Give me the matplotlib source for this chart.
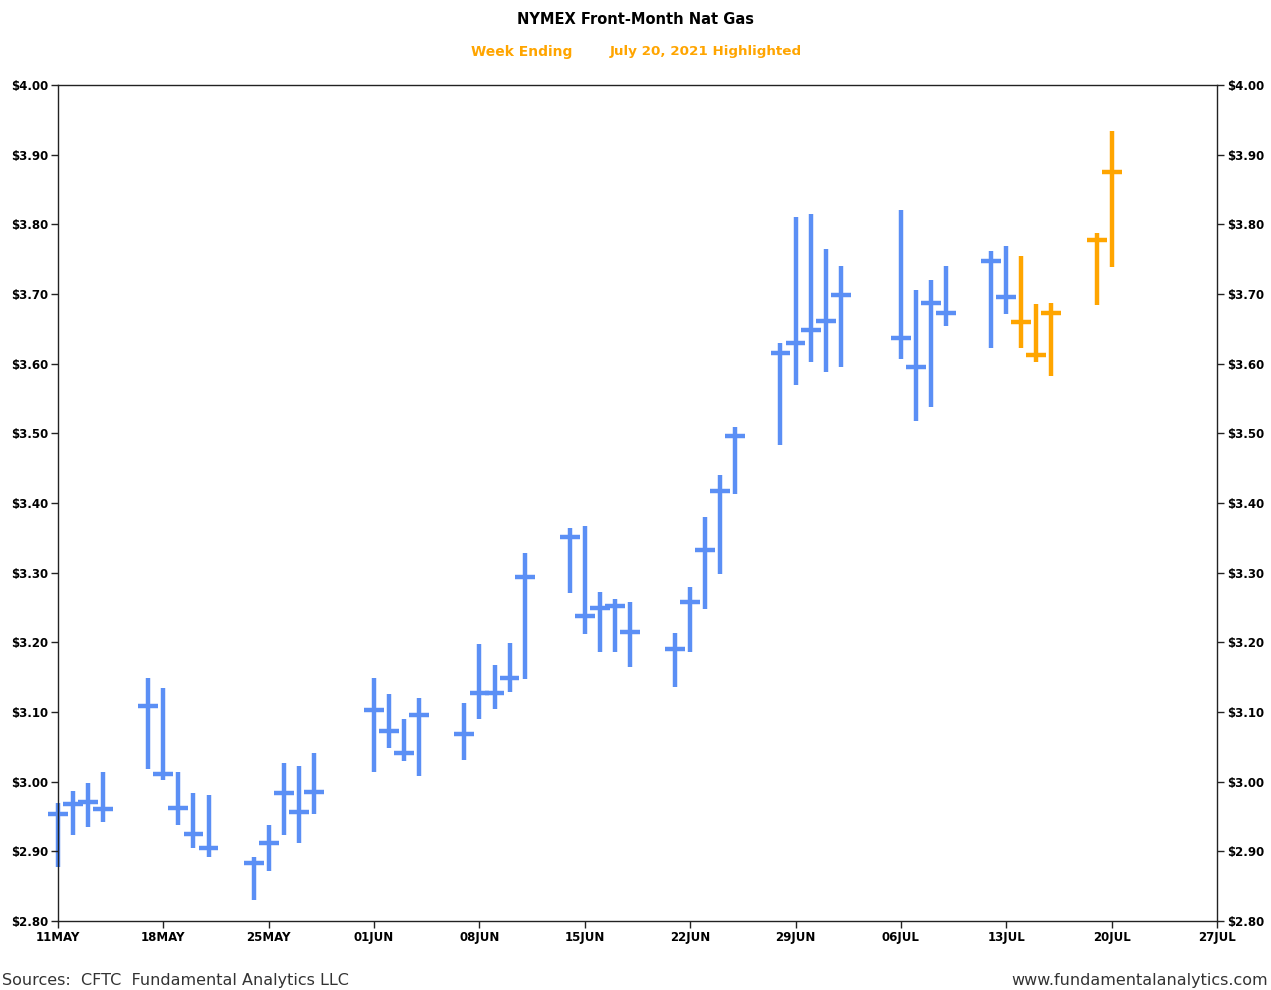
import numpy as np
import matplotlib
matplotlib.use("Agg")
import matplotlib.pyplot as plt
import matplotlib.dates as mdates
from matplotlib.ticker import FuncFormatter

# trading days with high / low / close
dates = ["2021-05-11", "2021-05-12", "2021-05-13", "2021-05-14",
         "2021-05-17", "2021-05-18", "2021-05-19", "2021-05-20", "2021-05-21",
         "2021-05-24", "2021-05-25", "2021-05-26", "2021-05-27", "2021-05-28",
         "2021-06-01", "2021-06-02", "2021-06-03", "2021-06-04",
         "2021-06-07", "2021-06-08", "2021-06-09", "2021-06-10", "2021-06-11",
         "2021-06-14", "2021-06-15", "2021-06-16", "2021-06-17", "2021-06-18",
         "2021-06-21", "2021-06-22", "2021-06-23", "2021-06-24", "2021-06-25",
         "2021-06-28", "2021-06-29", "2021-06-30", "2021-07-01", "2021-07-02",
         "2021-07-06", "2021-07-07", "2021-07-08", "2021-07-09",
         "2021-07-12", "2021-07-13", "2021-07-14", "2021-07-15", "2021-07-16",
         "2021-07-19", "2021-07-20"]

high = [2.970, 2.987, 2.998, 3.014,
        3.149, 3.134, 3.014, 2.984, 2.981,
        2.892, 2.938, 3.027, 3.023, 3.041,
        3.149, 3.126, 3.090, 3.120,
        3.113, 3.198, 3.168, 3.199, 3.328,
        3.364, 3.367, 3.272, 3.262, 3.258,
        3.213, 3.280, 3.380, 3.440, 3.509,
        3.630, 3.811, 3.815, 3.765, 3.740,
        3.821, 3.706, 3.720, 3.740,
        3.762, 3.769, 3.755, 3.686, 3.687,
        3.788, 3.934]

low = [2.878, 2.924, 2.935, 2.942,
       3.018, 3.002, 2.938, 2.905, 2.892,
       2.830, 2.872, 2.924, 2.912, 2.954,
       3.014, 3.048, 3.030, 3.008,
       3.031, 3.090, 3.104, 3.129, 3.147,
       3.271, 3.212, 3.186, 3.186, 3.165,
       3.136, 3.186, 3.248, 3.298, 3.413,
       3.483, 3.569, 3.602, 3.588, 3.595,
       3.607, 3.518, 3.538, 3.654,
       3.622, 3.671, 3.622, 3.602, 3.582,
       3.684, 3.739]

close = [2.954, 2.968, 2.971, 2.961,
         3.109, 3.011, 2.962, 2.925, 2.905,
         2.883, 2.912, 2.984, 2.957, 2.985,
         3.103, 3.073, 3.041, 3.096,
         3.068, 3.127, 3.127, 3.149, 3.294,
         3.351, 3.238, 3.249, 3.252, 3.215,
         3.190, 3.258, 3.333, 3.417, 3.496,
         3.615, 3.630, 3.648, 3.661, 3.699,
         3.637, 3.595, 3.687, 3.673,
         3.747, 3.696, 3.660, 3.612, 3.673,
         3.778, 3.875]

hl_start = "2021-07-14"   # week ending July 20 highlighted

week_ticks = ["2021-05-11", "2021-05-18", "2021-05-25", "2021-06-01",
              "2021-06-08", "2021-06-15", "2021-06-22", "2021-06-29",
              "2021-07-06", "2021-07-13", "2021-07-20", "2021-07-27"]

blue = "#5b8ff5"
orange = "#ffa500"

x = mdates.date2num(np.array(dates, dtype="datetime64[D]"))
hl = x >= mdates.date2num(np.datetime64(hl_start))
colors = np.where(hl, orange, blue)

fig = plt.figure(figsize=(12.71, 9.90), dpi=100)
ax = fig.add_axes([58 / 1271, 1 - 921 / 990, (1217 - 58) / 1271, (921 - 85) / 990])

w = 0.66
ax.vlines(x, low, high, colors=colors, lw=3.2, zorder=1.5, clip_on=False)
ax.hlines(close, x - w, x + w, colors=colors, lw=3.2, zorder=1.5, clip_on=False)

xt = mdates.date2num(np.array(week_ticks, dtype="datetime64[D]"))
ax.set_xlim(xt[0], xt[-1])
ax.set_ylim(2.80, 4.00)
ax.set_xticks(xt)
ax.set_xticklabels([mdates.num2date(t).strftime("%d%b").upper() for t in xt])
ax.set_yticks(np.arange(2.80, 4.001, 0.10))
ax.yaxis.set_major_formatter(FuncFormatter(lambda v, p: "${:.2f}".format(v)))
ax.tick_params(axis="both", direction="out", length=5, width=1, colors="#222222",
               labelsize=8.5, labelcolor="black", pad=2)
ax.tick_params(axis="y", right=True, labelright=True)
for lab in ax.get_xticklabels() + ax.get_yticklabels():
    lab.set_fontweight("bold")
for t in ax.yaxis.get_major_ticks():
    t.label2.set_fontweight("bold")
for s in ax.spines.values():
    s.set_color("#222222")
    s.set_linewidth(1)

fig.text(0.5, 1 - 19 / 990, "NYMEX Front-Month Nat Gas", ha="center", va="center",
         fontsize=10.5, fontweight="bold")
fig.text(522 / 1271, 1 - 52 / 990, "Week Ending", ha="center", va="center",
         fontsize=10, fontweight="bold", color=orange)
fig.text(706 / 1271, 1 - 52 / 990, "July 20, 2021 Highlighted", ha="center", va="center",
         fontsize=9.7, fontweight="bold", color=orange)
fig.text(2 / 1271, 1 - 980 / 990, "Sources:  CFTC  Fundamental Analytics LLC", ha="left",
         va="center", fontsize=11.5, color="#333333")
fig.text(1268 / 1271, 1 - 980 / 990, "www.fundamentalanalytics.com", ha="right",
         va="center", fontsize=11.5, color="#333333")

fig.savefig("out.png", dpi=100)
